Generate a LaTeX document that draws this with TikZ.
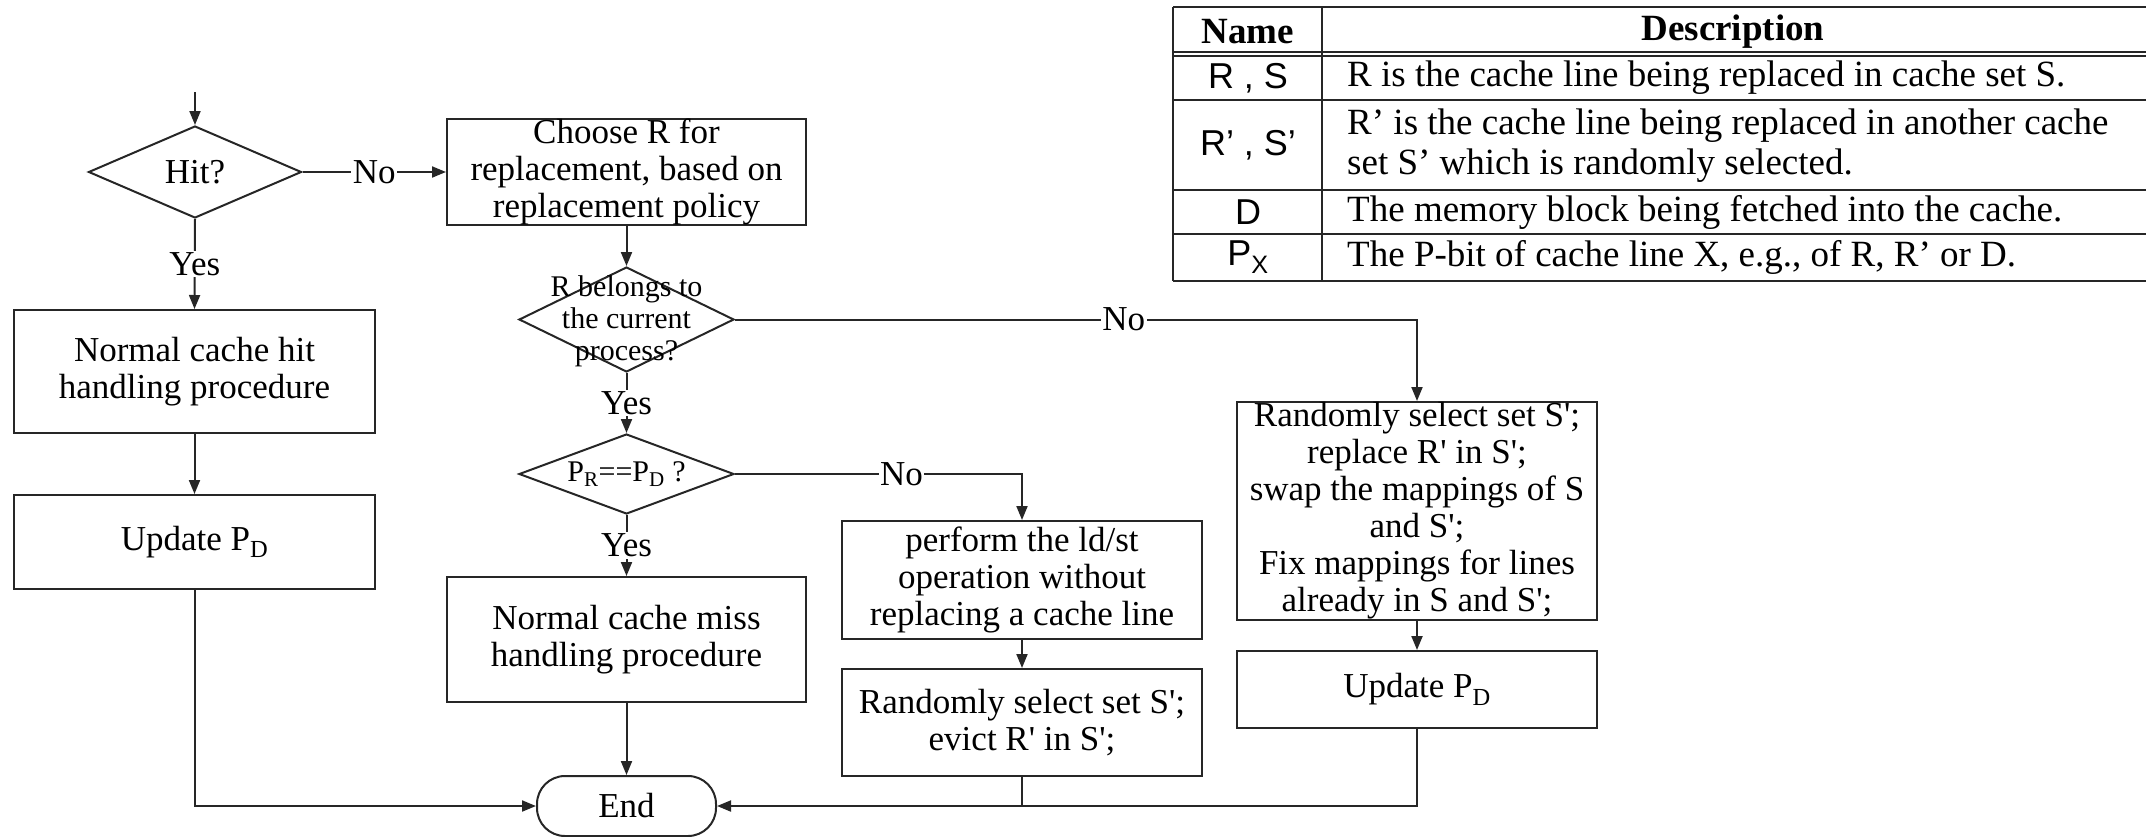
\documentclass[tikz,border=0pt]{standalone}
\usepackage{fontspec}
\setmainfont{Liberation Serif}
\setsansfont{Liberation Sans}
\usetikzlibrary{shapes.geometric,arrows.meta}

\newcommand\fsMain{\fontsize{35}{37}\selectfont}
\newcommand\fsDia{\fontsize{30}{32}\selectfont}
\newcommand\fsTab{\fontsize{37}{40}\selectfont}
\newcommand\fsName{\sffamily\fontsize{36}{40}\selectfont}

\begin{document}
\begin{tikzpicture}[x=1pt,y=-1pt]
\tikzset{
  ln/.style={draw=black!85, line width=2pt},
  arr/.style={ln, -{Triangle[length=14pt,width=11pt]}},
  box/.style={ln, rectangle, inner sep=0pt, align=center, font=\fsMain},
  dia/.style={ln, diamond, inner sep=0pt},
  dtxt/.style={align=center, inner sep=0pt},
  lbl/.style={fill=white, inner sep=1.5pt, font=\fsMain},
  endbox/.style={ln, rectangle, rounded corners=28pt, inner sep=0pt, font=\fsMain},
  tl/.style={draw=black!85, line width=1.8pt},
  hd/.style={inner sep=0pt, font=\fsTab\bfseries},
  nm/.style={inner sep=0pt, font=\fsName},
  ds/.style={inner sep=0pt, anchor=west, align=left, font=\fsTab},
}
\useasboundingbox (0,0) rectangle (2146,836);

% ---- left branch: hit path
\coordinate (start) at (195,92);
\node[dia, minimum width=213pt, minimum height=92pt] (hit) at (195,172) {};
\node[dtxt, font=\fsMain] (hitt) at (hit.center) {Hit?};
\node[box, minimum width=361pt, minimum height=123pt] (hitbox) at (194.5,371.5) {Normal cache hit\\handling procedure};
\node[box, minimum width=361pt, minimum height=94pt] (upd1) at (194.5,542) {Update P\textsubscript{D}};

% ---- miss path
\node[box, minimum width=359pt, minimum height=100pt] (choose) at (626.5,172) {Choose R for\\replacement, based on\\replacement policy};
\node[dia, minimum width=215pt, minimum height=105pt] (rb) at (626.5,319.5) {};
\node[dtxt, font=\fsDia] (rbt) at (626.5,321) {R belongs to\\the current\\process?};
\node[dia, minimum width=215pt, minimum height=80pt] (pr) at (626.5,474) {};
\node[dtxt, font=\fsDia] (prt) at (pr.center) {P\textsubscript{R}==P\textsubscript{D} ?};
\node[box, minimum width=359pt, minimum height=125pt] (miss) at (626.5,639.5) {Normal cache miss\\handling procedure};
\node[endbox, minimum width=179pt, minimum height=60pt] (end) at (626.5,806) {End};

\node[box, minimum width=360pt, minimum height=118pt] (perform) at (1022,580) {perform the ld/st\\operation without\\replacing a cache line};
\node[box, minimum width=360pt, minimum height=107pt] (evict) at (1022,722.5) {Randomly select set S\textquotesingle;\\evict R\textquotesingle{} in S\textquotesingle;};

\node[box, minimum width=360pt, minimum height=218pt] (rand) at (1417,511) {Randomly select set S\textquotesingle;\\replace R\textquotesingle{} in S\textquotesingle;\\swap the mappings of S\\and S\textquotesingle;\\Fix mappings for lines\\already in S and S\textquotesingle;};
\node[box, minimum width=360pt, minimum height=77pt] (upd2) at (1417,689.5) {Update P\textsubscript{D}};

% ---- connectors
\draw[arr] (start) -- (hit.north);
\draw[arr] (hit.east) -- node[lbl]{No} (choose.west);
\draw[arr] (hit.south) -- node[lbl]{Yes} (hitbox.north);
\draw[arr] (hitbox.south) -- (upd1.north);
\draw[arr] (upd1.south) |- (end.west);

\draw[arr] (choose.south) -- (rb.north);
\draw[arr] (rb.south) -- node[lbl]{Yes} (pr.north);
\draw[arr] (pr.south) -- node[lbl]{Yes} (miss.north);
\draw[arr] (miss.south) -- (end.north);

\draw[arr] (pr.east) -- node[lbl, pos=0.58]{No} (pr.east -| perform.north) -- (perform.north);
\draw[arr] (perform.south) -- (evict.north);
\draw[ln] (evict.south) -- (evict.south |- end.east);

\draw[arr] (rb.east) -- node[lbl, pos=0.57]{No} (rb.east -| rand.north) -- (rand.north);
\draw[arr] (rand.south) -- (upd2.north);
\draw[arr] (upd2.south) |- (end.east);

% ---- symbol table
\draw[tl] (1173,7) -- (2146,7);
\draw[tl] (1173,52) -- (2146,52);
\draw[tl] (1173,56) -- (2146,56);
\draw[tl] (1173,100) -- (2146,100);
\draw[tl] (1173,190) -- (2146,190);
\draw[tl] (1173,234) -- (2146,234);
\draw[tl] (1173,281) -- (2146,281);
\draw[tl] (1173,7) -- (1173,281);
\draw[tl] (1322,7) -- (1322,281);

\node[hd] (hname) at (1248,32) {Name};
\node[hd] (hdesc) at (1733,32) {Description};
\node[nm] (n1) at (1248,78) {R , S};
\node[nm] (n2) at (1248,145) {R’ , S’};
\node[nm] (n3) at (1248,212) {D};
\node[nm] (n4) at (1248,257) {P\textsubscript{X}};
\node[ds] (d1) at (1347,78) {R is the cache line being replaced in cache set S.};
\node[ds] (d2) at (1347,146) {R’ is the cache line being replaced in another cache\\set S’ which is randomly selected.};
\node[ds] (d3) at (1347,212) {The memory block being fetched into the cache.};
\node[ds] (d4) at (1347,257) {The P-bit of cache line X, e.g., of R, R’ or D.};
\end{tikzpicture}
\end{document}
